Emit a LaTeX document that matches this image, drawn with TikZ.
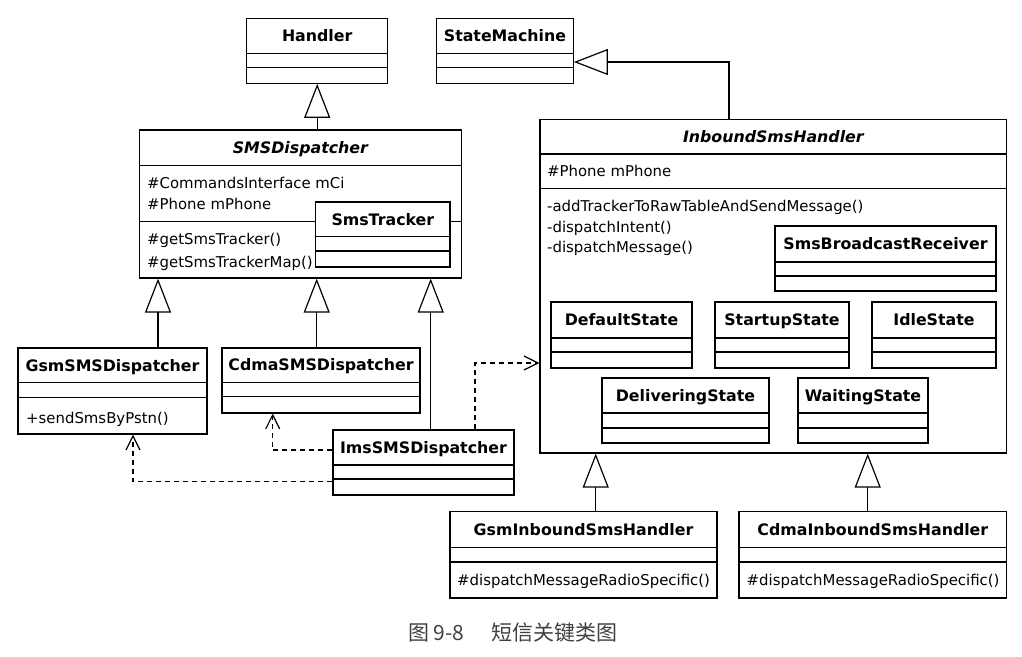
\documentclass[tikz,border=0pt]{standalone}
\usepackage{fontspec}
\setmainfont{DejaVu Sans}
\newfontfamily\cjk{Noto Sans CJK SC}
\usepackage{xcolor}
\usetikzlibrary{arrows.meta}

\tikzset{
    cls/.style={draw, line width=1.2pt, inner sep=0pt, fill=white},
    sepline/.style={line width=1.2pt},
    clstitle/.style={font=\fontsize{15.8}{18}\selectfont\bfseries, inner sep=0pt, text height=11.6pt, text depth=0pt},
    abstitle/.style={clstitle, font=\fontsize{15.8}{18}\selectfont\bfseries\itshape},
    member/.style={font=\fontsize{14.9}{18}\selectfont, anchor=west, inner sep=0pt, text height=11pt, text depth=0pt},
    gen/.style={line width=1.2pt, -{Triangle[open, length=34pt, width=26pt, line width=1.2pt]}},
    dep/.style={line width=1.2pt, dash pattern=on 5pt off 4pt, -{Straight Barb[length=14pt, width=14pt, line width=1.2pt]}},
    caption/.style={font=\cjk\fontsize{21}{24}\selectfont, text=black!75, anchor=west, inner sep=0pt}
}

\begin{document}
\begin{tikzpicture}[x=1pt, y=-1pt]
    \fill[white] (0,0) rectangle (1022,656);
    \useasboundingbox (0,0) rectangle (1022,656);

    % top classes
    \node[cls, minimum width=141, minimum height=65] (handler) at (317.2,50.8) {};
    \draw[sepline] (handler.west |- 0,53.3) -- (handler.east |- 0,53.3);
    \draw[sepline] (handler.west |- 0,67.7) -- (handler.east |- 0,67.7);
    \node[clstitle] (handler-t) at (handler.north |- 0,35.8) {Handler};

    \node[cls, minimum width=136.6, minimum height=65] (statemachine) at (505,50.8) {};
    \draw[sepline] (statemachine.west |- 0,53.3) -- (statemachine.east |- 0,53.3);
    \draw[sepline] (statemachine.west |- 0,67.7) -- (statemachine.east |- 0,67.7);
    \node[clstitle] (statemachine-t) at (statemachine.north |- 0,35.8) {StateMachine};

    % SMSDispatcher with SmsTracker inside
    \node[cls, minimum width=322.2, minimum height=148] (smsd) at (300.4,204) {};
    \draw[sepline] (smsd.west |- 0,165.5) -- (smsd.east |- 0,165.5);
    \draw[sepline] (smsd.west |- 0,221.7) -- (smsd.east |- 0,221.7);
    \node[abstitle] (smsd-t) at (smsd.north |- 0,147.75) {SMSDispatcher};
    \node[member] (smsd-a1) at (147,183) {\#CommandsInterface mCi};
    \node[member] (smsd-a2) at (147,204) {\#Phone mPhone};
    \node[member] (smsd-o1) at (147,239) {\#getSmsTracker()};
    \node[member] (smsd-o2) at (147,262) {\#getSmsTrackerMap()};

    \node[cls, minimum width=134.3, minimum height=65] (smstracker) at (382.85,234.5) {};
    \draw[sepline] (smstracker.west |- 0,236.7) -- (smstracker.east |- 0,236.7);
    \draw[sepline] (smstracker.west |- 0,251) -- (smstracker.east |- 0,251);
    \node[clstitle] (smstracker-t) at (smstracker.north |- 0,219.35) {SmsTracker};

    % dispatcher subclasses
    \node[cls, minimum width=189, minimum height=86] (gsmsms) at (112.5,391) {};
    \draw[sepline] (gsmsms.west |- 0,382.7) -- (gsmsms.east |- 0,382.7);
    \draw[sepline] (gsmsms.west |- 0,397.2) -- (gsmsms.east |- 0,397.2);
    \node[clstitle] (gsmsms-t) at (gsmsms.north |- 0,365.5) {GsmSMSDispatcher};
    \node[member] (gsmsms-o1) at (26,418) {+sendSmsByPstn()};

    \node[cls, minimum width=198, minimum height=65] (cdmasms) at (321,380.5) {};
    \draw[sepline] (cdmasms.west |- 0,382.3) -- (cdmasms.east |- 0,382.3);
    \draw[sepline] (cdmasms.west |- 0,396.7) -- (cdmasms.east |- 0,396.7);
    \node[clstitle] (cdmasms-t) at (cdmasms.north |- 0,365) {CdmaSMSDispatcher};

    \node[cls, minimum width=181, minimum height=65] (imssms) at (423.5,462.5) {};
    \draw[sepline] (imssms.west |- 0,465) -- (imssms.east |- 0,465);
    \draw[sepline] (imssms.west |- 0,479) -- (imssms.east |- 0,479);
    \node[clstitle] (imssms-t) at (imssms.north |- 0,447.5) {ImsSMSDispatcher};

    % InboundSmsHandler with inner classes
    \node[cls, minimum width=466.7, minimum height=333.5] (inbound) at (773.35,286.25) {};
    \draw[sepline] (inbound.west |- 0,154) -- (inbound.east |- 0,154);
    \draw[sepline] (inbound.west |- 0,188.5) -- (inbound.east |- 0,188.5);
    \node[abstitle] (inbound-t) at (inbound.north |- 0,136.75) {InboundSmsHandler};
    \node[member] (inbound-a1) at (547,171) {\#Phone mPhone};
    \node[member] (inbound-o1) at (547,206) {-addTrackerToRawTableAndSendMessage()};
    \node[member] (inbound-o2) at (547,227) {-dispatchIntent()};
    \node[member] (inbound-o3) at (547,247) {-dispatchMessage()};

    \node[cls, minimum width=221, minimum height=65] (smsbr) at (885.5,258.5) {};
    \draw[sepline] (smsbr.west |- 0,262) -- (smsbr.east |- 0,262);
    \draw[sepline] (smsbr.west |- 0,276) -- (smsbr.east |- 0,276);
    \node[clstitle] (smsbr-t) at (smsbr.north |- 0,244) {SmsBroadcastReceiver};

    \node[cls, minimum width=141, minimum height=66] (defst) at (621.5,335) {};
    \draw[sepline] (defst.west |- 0,338) -- (defst.east |- 0,338);
    \draw[sepline] (defst.west |- 0,352) -- (defst.east |- 0,352);
    \node[clstitle] (defst-t) at (defst.north |- 0,320) {DefaultState};

    \node[cls, minimum width=134, minimum height=66] (startst) at (782,335) {};
    \draw[sepline] (startst.west |- 0,338) -- (startst.east |- 0,338);
    \draw[sepline] (startst.west |- 0,352) -- (startst.east |- 0,352);
    \node[clstitle] (startst-t) at (startst.north |- 0,320) {StartupState};

    \node[cls, minimum width=124, minimum height=66] (idlest) at (934,335) {};
    \draw[sepline] (idlest.west |- 0,338) -- (idlest.east |- 0,338);
    \draw[sepline] (idlest.west |- 0,352) -- (idlest.east |- 0,352);
    \node[clstitle] (idlest-t) at (idlest.north |- 0,320) {IdleState};

    \node[cls, minimum width=167, minimum height=65] (delst) at (685.5,410.5) {};
    \draw[sepline] (delst.west |- 0,413) -- (delst.east |- 0,413);
    \draw[sepline] (delst.west |- 0,428) -- (delst.east |- 0,428);
    \node[clstitle] (delst-t) at (delst.north |- 0,395.5) {DeliveringState};

    \node[cls, minimum width=130, minimum height=65] (waitst) at (863,410.5) {};
    \draw[sepline] (waitst.west |- 0,413) -- (waitst.east |- 0,413);
    \draw[sepline] (waitst.west |- 0,428) -- (waitst.east |- 0,428);
    \node[clstitle] (waitst-t) at (waitst.north |- 0,395.5) {WaitingState};

    % handler subclasses
    \node[cls, minimum width=267, minimum height=86.5] (gsminb) at (583.5,554.75) {};
    \draw[sepline] (gsminb.west |- 0,547.5) -- (gsminb.east |- 0,547.5);
    \draw[sepline] (gsminb.west |- 0,562) -- (gsminb.east |- 0,562);
    \node[clstitle] (gsminb-t) at (gsminb.north |- 0,529.5) {GsmInboundSmsHandler};
    \node[member] (gsminb-o1) at (457,580) {\#dispatchMessageRadioSpecific()};

    \node[cls, minimum width=267.7, minimum height=86.5] (cdmainb) at (872.85,554.75) {};
    \draw[sepline] (cdmainb.west |- 0,547.5) -- (cdmainb.east |- 0,547.5);
    \draw[sepline] (cdmainb.west |- 0,562) -- (cdmainb.east |- 0,562);
    \node[clstitle] (cdmainb-t) at (cdmainb.north |- 0,529.5) {CdmaInboundSmsHandler};
    \node[member] (cdmainb-o1) at (746.5,580) {\#dispatchMessageRadioSpecific()};

    % generalizations
    \draw[gen] (smsd.north -| handler.south) -- (handler.south);
    \draw[gen] (inbound.north -| 729,0) |- (statemachine.east |- 0,62);
    \draw[gen] (gsmsms.north -| 158,0) -- (smsd.south -| 158,0);
    \draw[gen] (cdmasms.north -| 316.7,0) -- (smsd.south -| 316.7,0);
    \draw[gen] (imssms.north -| 430.7,0) -- (smsd.south -| 430.7,0);
    \draw[gen] (gsminb.north -| 595.7,0) -- (inbound.south -| 595.7,0);
    \draw[gen] (cdmainb.north -| 867.7,0) -- (inbound.south -| 867.7,0);

    % dependencies
    \draw[dep] (imssms.west |- 0,450) -| (cdmasms.south -| 272.7,0);
    \draw[dep] (imssms.west |- 0,481.7) -| (gsmsms.south -| 133,0);
    \draw[dep] (imssms.north -| 475,0) |- (inbound.west |- 0,363);

    \node[caption] (cap) at (408,633) {图 9-8\hspace{27pt}短信关键类图};
\end{tikzpicture}
\end{document}
